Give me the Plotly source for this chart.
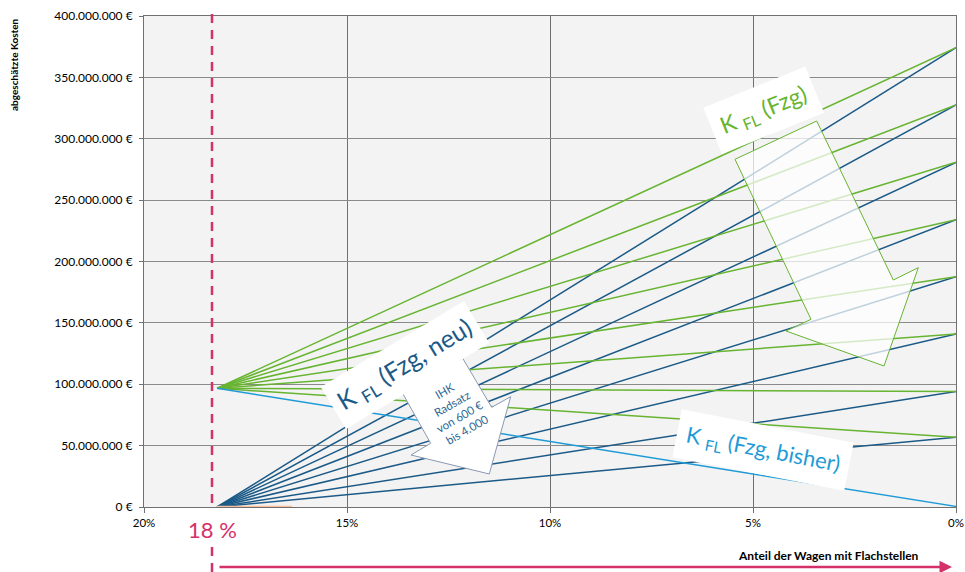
import plotly.graph_objects as go

# ---------------- data ----------------
x_start = 18.2          # % share of wagons with flat spots (start of fans)
x_end = 0.0
end_costs = [374_200_000, 327_500_000, 280_800_000, 234_100_000,
             187_600_000, 140_900_000, 94_000_000, 56_800_000]
green_start_cost = 96_700_000      # K_FL (Fzg)
blue_start_cost = 0                # K_FL (Fzg, neu)
bisher_x = [18.2, 0.0]
bisher_cost = [96_700_000, 500_000]  # K_FL (Fzg, bisher)
peach_x = [18.2, 16.35]
peach_cost = [0, 0]

x_tickvals = [20, 15, 10, 5, 0]
x_ticktext = ["20%", "15%", "10%", "5%", "0%"]
y_tickvals = [0, 50e6, 100e6, 150e6, 200e6, 250e6, 300e6, 350e6, 400e6]
y_ticktext = [f"{int(v):,}".replace(",", ".") + " €" for v in y_tickvals]

GREEN = "#67b431"
DARK_BLUE = "#1b5a87"
LIGHT_BLUE = "#1e9bd7"
PINK = "#d4306a"
PEACH = "#f8bf9c"
FONT = "Lato"

W, H = 965, 572
# plot area in page pixels
PL, PR, PT, PB = 144, 956, 16, 507


def px(x):
    return (x - PL) / (PR - PL)


def py(y):
    return (PB - y) / (PB - PT)


fig = go.Figure()

for c in end_costs:
    fig.add_trace(go.Scatter(x=[x_start, x_end], y=[blue_start_cost, c], mode="lines",
                             line=dict(color=DARK_BLUE, width=1.5), showlegend=False,
                             hoverinfo="skip"))
for c in end_costs:
    fig.add_trace(go.Scatter(x=[x_start, x_end], y=[green_start_cost, c], mode="lines",
                             line=dict(color=GREEN, width=1.5), showlegend=False,
                             hoverinfo="skip"))
fig.add_trace(go.Scatter(x=bisher_x, y=bisher_cost, mode="lines",
                         line=dict(color=LIGHT_BLUE, width=1.5), showlegend=False,
                         hoverinfo="skip"))
fig.add_trace(go.Scatter(x=peach_x, y=peach_cost, mode="lines",
                         line=dict(color=PEACH, width=2.5), showlegend=False,
                         hoverinfo="skip", cliponaxis=False))


def path(points):
    return "M " + " L ".join(f"{px(a):.5f},{py(b):.5f}" for a, b in points) + " Z"


green_arrow = [(735, 159.3), (816.7, 121), (893.3, 280), (918.3, 267.7),
               (884, 366), (786, 331), (811, 319.3)]
ihk_arrow = [(401.7, 391.7), (462.7, 358.3), (491.7, 407.3), (510.7, 396.7),
             (489.3, 474), (411, 455), (430.7, 443.3)]

shapes = [
    dict(type="path", xref="paper", yref="paper", path=path(green_arrow),
         fillcolor="rgba(255,255,255,0.72)", line=dict(color=GREEN, width=1), layer="above"),
    dict(type="path", xref="paper", yref="paper", path=path(ihk_arrow),
         fillcolor="white", line=dict(color="#8a98b2", width=1), layer="above"),
    dict(type="line", xref="paper", yref="paper", x0=px(212), x1=px(212), y0=py(14), y1=py(510),
         line=dict(color=PINK, width=2.5, dash="9px,7px"), layer="above"),
    dict(type="line", xref="paper", yref="paper", x0=px(212), x1=px(212), y0=py(547), y1=py(572),
         line=dict(color=PINK, width=2.5, dash="9px,7px"), layer="above"),
]


def label(text, x, y, angle=0, size=12, color="black", **kw):
    return dict(text=text, x=px(x), y=py(y), xref="paper", yref="paper",
                xanchor="center", yanchor="middle", showarrow=False, textangle=angle,
                font=dict(family=FONT, size=size, color=color), **kw)


annotations = [
    label("K <sub>FL</sub> (Fzg)", 763, 110, -22, 23, GREEN, bgcolor="white", borderpad=9),
    label("K <sub>FL</sub> (Fzg, neu)", 405, 365, -31, 25, DARK_BLUE, bgcolor="white", borderpad=7),
    label("K <sub>FL</sub> (Fzg, bisher)", 763, 450, 11, 22, LIGHT_BLUE, bgcolor="white", borderpad=9),
    label("IHK<br>Radsatz<br>von 600 €<br>bis 4.000", 456, 410, -30, 11.5, "#2b6592", align="center"),
    label("18 %", 212, 529, 0, 22, PINK),
    dict(text="", x=px(952), y=py(567), xref="paper", yref="paper", showarrow=True,
         ax=-(952 - 218), ay=0, axref="pixel", ayref="pixel",
         arrowhead=2, arrowsize=1, arrowwidth=2.5, arrowcolor=PINK),
    label("<b>Anteil der Wagen mit Flachstellen</b>", 828, 555, 0, 12, "black"),
    label("<b>abgeschätzte Kosten</b>", 14, 65, -90, 10, "black"),
]

fig.update_layout(
    width=W, height=H,
    margin=dict(l=PL, r=W - PR, t=PT, b=H - PB, autoexpand=False),
    paper_bgcolor="white", plot_bgcolor="#f3f3f3",
    font=dict(family=FONT, size=11, color="black"),
    showlegend=False,
    shapes=shapes, annotations=annotations,
    xaxis=dict(range=[20, 0], tickvals=x_tickvals, ticktext=x_ticktext,
               showgrid=True, gridcolor="#707070", gridwidth=1,
               showline=True, linecolor="#707070", linewidth=1, mirror=True,
               ticks="outside", ticklen=5, tickcolor="#707070", ticklabeloverflow="allow",
               zeroline=False, tickfont=dict(family=FONT, size=11.5), automargin=False),
    yaxis=dict(range=[0, 400e6], tickvals=y_tickvals, ticktext=y_ticktext,
               showgrid=True, gridcolor="#8a8a8a", gridwidth=1,
               showline=True, linecolor="#707070", linewidth=1, mirror=True,
               ticks="outside", ticklen=4, tickcolor="#707070", ticklabelstandoff=4,
               zeroline=False, tickfont=dict(family=FONT, size=12), automargin=False),
)

fig.write_html("out.html", config={"displayModeBar": False},
               post_script="document.body.style.margin='0px';document.body.style.overflow='hidden';")
